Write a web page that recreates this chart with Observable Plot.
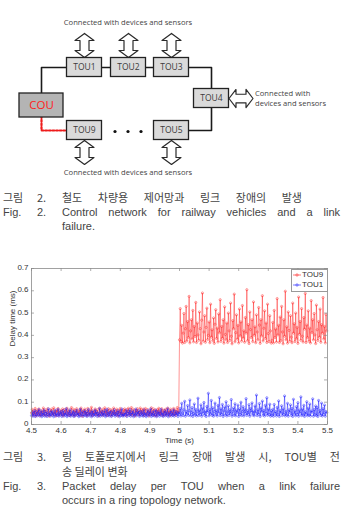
<!DOCTYPE html>
<html>
<head>
<meta charset="utf-8">
<script src="https://cdn.jsdelivr.net/npm/d3@7"></script>
<script src="https://cdn.jsdelivr.net/npm/@observablehq/plot@0.6"></script>
<style>
  body { margin: 0; background: #fff; }
  #page { position: relative; width: 343px; height: 531px; overflow: hidden; background: #fff; }
  .block { position: absolute; left: 0; }
  .cap { position: absolute; left: 0; width: 343px; height: 15px; line-height: 15px; font-size: 11px; color: #444; white-space: nowrap; }
  .ko { font-family: "Noto Sans CJK KR", sans-serif; }
  .en { font-family: "Liberation Sans", Arial, sans-serif; }
  .cap span { position: absolute; top: 0; }
  .lab { left: 3px; }
  .num { left: 37px; }
  .txt { left: 62px; }
  .just { display: inline-block; text-align: justify; text-align-last: justify; }
  #legend { position: absolute; background: #fff; border: 0.8px solid #999; font: 8px "Liberation Sans", Arial, sans-serif; color: #333; }
</style>
</head>
<body>
<div id="page">
  <div id="diagram" class="block" style="top:0"></div>

  <div class="cap ko" style="top:190px"><span class="lab">그림</span><span class="num">2.</span><span class="txt just" style="width:240px">철도 차량용 제어망과 링크 장애의 발생</span></div>
  <div class="cap en" style="top:205px"><span class="lab">Fig.</span><span class="num">2.</span><span class="txt just" style="width:278px">Control network for railway vehicles and a link</span></div>
  <div class="cap en" style="top:219px"><span class="txt">failure.</span></div>

  <div id="chart" class="block" style="top:258px"></div>
  <div id="legend" style="left:291px;top:269px;width:35px;height:21px"></div>

  <div class="cap ko" style="top:449px"><span class="lab">그림</span><span class="num">3.</span><span class="txt just" style="width:278px">링 토폴로지에서 링크 장애 발생 시, TOU별 전</span></div>
  <div class="cap ko" style="top:464px"><span class="txt">송 딜레이 변화</span></div>
  <div class="cap en" style="top:479px"><span class="lab">Fig.</span><span class="num">3.</span><span class="txt just" style="width:278px">Packet delay per TOU when a link failure</span></div>
  <div class="cap en" style="top:493px"><span class="txt">occurs in a ring topology network.</span></div>
</div>

<script>
// ---------- Network diagram: COU + TOUs on a ring ----------
const units = [
  { id: "COU",  x: 41,  y: 105, side: true },
  { id: "TOU1", x: 84,  y: 67 },
  { id: "TOU2", x: 128, y: 67 },
  { id: "TOU3", x: 171, y: 67 },
  { id: "TOU4", x: 211, y: 98, side: true },
  { id: "TOU5", x: 171, y: 130 },
  { id: "TOU9", x: 84,  y: 130 }
];
const ringOrder = ["COU", "TOU1", "TOU2", "TOU3", "TOU4", "TOU5"];
const failedLink = ["COU", "TOU9"];
// which TOUs exchange data with field devices, and on which side of the box
const deviceLinks = [
  { id: "TOU1", side: "top" }, { id: "TOU2", side: "top" }, { id: "TOU3", side: "top" },
  { id: "TOU4", side: "right" },
  { id: "TOU9", side: "bottom" }, { id: "TOU5", side: "bottom" }
];
const deviceNote = "Connected with devices and sensors";
const deviceNoteLines = ["Connected with", "devices and sensors"];

const byId = new Map(units.map(u => [u.id, u]));
const boxW = 35, boxH = 19, couW = 44, couH = 24;
const sizeOf = u => u.id === "COU" ? [couW, couH] : [boxW, boxH];

// elbow route: the vertical leg runs at the x of the side node
function route(ids) {
  const pts = [];
  ids.forEach((id, i) => {
    const b = byId.get(id);
    if (i > 0) {
      const a = byId.get(ids[i - 1]);
      if (a.x !== b.x && a.y !== b.y) {
        pts.push(a.side ? { x: a.x, y: b.y } : { x: b.x, y: a.y });
      }
    }
    pts.push({ x: b.x, y: b.y });
  });
  return pts;
}
const ringPts = route(ringOrder);
const failedPts = route(failedLink);

// hollow double-headed arrow outline, half-length 12
const arrowShape = [[0,-12],[9.5,-5],[4.5,-5],[4.5,5],[9.5,5],[0,12],[-9.5,5],[-4.5,5],[-4.5,-5],[-9.5,-5],[0,-12]];
const arrowPts = deviceLinks.flatMap((l, k) => {
  const u = byId.get(l.id);
  const [w, h] = sizeOf(u);
  let cx = u.x, cy = u.y, horiz = false;
  if (l.side === "top") cy = u.y - h / 2 - 12.5;
  if (l.side === "bottom") cy = u.y + h / 2 + 12.5;
  if (l.side === "right") { cx = u.x + w / 2 + 12; horiz = true; }
  return arrowShape.map(([dx, dy]) => ({ k, x: cx + (horiz ? dy : dx), y: cy + (horiz ? dx * 0.95 : dy) }));
});

const t9 = byId.get("TOU9"), t5 = byId.get("TOU5"), t4 = byId.get("TOU4");
const midX = (t9.x + t5.x) / 2;
const ellipsis = [-1, 0, 1].map(k => ({ x: midX + k * 13, y: t9.y + 1 }));

const topNoteY = byId.get("TOU1").y - boxH / 2 - 35;
const bottomNoteY = t9.y + boxH / 2 + 33;

const diagram = Plot.plot({
  width: 343, height: 185, margin: 0,
  x: { domain: [0, 343], range: [0, 343], axis: null },
  y: { domain: [0, 185], range: [0, 185], axis: null },
  style: { background: "white", fontFamily: "'Open Sans', sans-serif" },
  marks: [
    Plot.line(ringPts, { x: "x", y: "y", stroke: "#1a1a1a", strokeWidth: 1.6 }),
    Plot.line(failedPts, { x: "x", y: "y", stroke: "#ee1c1c", strokeWidth: 2.2, strokeDasharray: "1.8,1.8" }),
    Plot.line(arrowPts, { x: "x", y: "y", z: "k", stroke: "#2a2a2a", strokeWidth: 1.2, fill: "white" }),
    Plot.rect(units, {
      x1: d => d.x - sizeOf(d)[0] / 2, x2: d => d.x + sizeOf(d)[0] / 2,
      y1: d => d.y - sizeOf(d)[1] / 2, y2: d => d.y + sizeOf(d)[1] / 2,
      fill: d => d.id === "COU" ? "#b4b4b4" : "#dadada", stroke: "#222", strokeWidth: 1.3
    }),
    Plot.text(units, {
      x: "x", y: "y", text: "id",
      fill: d => d.id === "COU" ? "#ff2020" : "#3a3a3a",
      fontSize: d => d.id === "COU" ? 11.5 : 8.5
    }),
    Plot.dot(ellipsis, { x: "x", y: "y", r: 1.6, fill: "#111", stroke: null }),
    Plot.text([deviceNote], { x: midX, y: topNoteY, fill: "#444", fontSize: 7.6 }),
    Plot.text([deviceNote], { x: midX, y: bottomNoteY, fill: "#444", fontSize: 7.6 }),
    Plot.text(deviceNoteLines, {
      x: t4.x + boxW / 2 + 26, y: (d, i) => t4.y - 4.5 + i * 10,
      textAnchor: "start", fill: "#444", fontSize: 7.6
    })
  ]
});
document.getElementById("diagram").append(diagram);

// ---------- Packet delay per TOU (values in microseconds) ----------
const failureTime = 5.0;       // s, link COU–TOU9 fails
const startTime = 4.5;         // s
const samplePeriod = 0.0025;   // s between logged packets

const seriesNames = ["TOU9", "TOU1"];
const seriesColors = ["#ff1f1f", "#1f1fff"];

const tou9Before = [
  52,68,41,60,47,72,38,55,64,44,70,50,39,62,57,45,74,42,58,66,40,53,71,48,37,
  61,56,69,43,51,75,46,59,38,65,54,72,41,49,63,58,44,70,39,52,67,47,60,73,42,
  55,64,40,57,76,45,50,68,38,62,53,71,43,59,48,66,41,74,56,37,63,51,69,46,58,
  40,72,54,44,65,50,77,39,61,47,57,70,42,55,66,48,38,73,52,60,45,68,41,56,75,
  49,63,40,58,71,44,53,67,39,62,50,74,46,59,43,69,55,38,64,51,72,47,57,41,66,
  45,70,58,39,66,52,73,44,61,48,76,41,57,68,50,38,63,55,71,46,60,42,74,53,65,
  47,69,40,59,72,51,43,67,56,38,62,49,75,45,58,70,41,54,64,39,66,52,73,47,60,
  44,71,57,40,63,50,68,42,55,74,46,61,39,69,53,58,43,72,48,65,41,56,76,51,62
];
const tou9After = [
  380,520,372,445,365,410,498,368,430,530,375,462,390,575,366,420,470,384,512,371,440,395,548,368,455,
  402,378,505,430,362,468,590,374,415,488,369,436,522,381,400,460,367,540,392,425,376,478,364,450,515,
  386,432,370,496,412,560,373,440,387,470,365,528,404,380,455,368,500,420,377,545,396,362,466,430,585,
  371,412,492,383,445,366,518,398,460,374,534,388,420,369,480,410,605,376,448,363,505,426,390,470,372,
  550,401,438,367,492,415,380,525,446,364,470,398,578,375,432,510,386,455,368,540,408,372,488,420,365,
  378,458,366,512,390,428,370,565,402,445,368,482,376,530,415,362,470,396,598,380,438,365,505,422,374,
  488,392,367,545,410,452,372,500,385,436,364,572,405,462,378,520,396,370,480,428,588,368,446,390,510,
  374,432,366,556,412,470,380,498,402,363,536,425,377,462,392,518,369,448,410,570,384,440,366,494,420
];
const tou1Before = [
  40,55,37,48,62,36,44,58,39,51,67,38,46,60,35,53,42,65,37,49,57,36,45,70,40,
  52,38,61,43,56,35,47,64,39,50,41,68,37,54,44,59,36,48,63,38,52,42,71,35,46,
  57,40,66,37,50,43,60,36,55,39,48,64,41,53,35,45,69,38,51,58,37,44,62,40,56,
  36,49,67,39,47,54,35,61,42,52,38,65,45,57,36,50,41,72,37,48,59,39,53,43,63,
  35,46,68,40,55,38,51,60,36,44,57,42,66,37,49,54,39,62,45,35,58,41,70,38,47,
  38,52,44,64,36,49,58,41,67,37,53,46,61,35,50,43,69,39,56,47,62,36,45,59,40,
  54,37,66,42,51,35,48,63,39,57,44,70,36,52,41,60,38,46,65,35,55,43,58,37,49,
  68,40,53,36,47,62,39,56,42,71,35,50,45,61,38,54,41,66,37,48,59,43,52,36,57
];
const tou1After = [
  45,72,38,95,52,40,66,104,37,58,47,85,41,62,110,39,54,76,36,49,92,43,68,38,57,
  118,40,64,46,88,37,73,51,99,42,60,36,81,55,140,39,67,48,108,41,75,37,58,96,44,
  63,38,86,52,121,40,70,46,90,36,61,78,43,102,38,56,84,41,66,49,112,37,59,74,42,
  93,39,64,53,87,36,70,45,100,40,58,80,38,68,50,116,41,62,47,89,37,72,55,97,43,
  60,39,83,52,132,40,66,46,94,36,74,57,105,42,63,38,86,50,120,41,69,45,91,37,62,
  41,68,37,90,49,58,38,77,44,106,36,62,52,84,40,70,46,128,38,59,43,95,37,66,54,
  88,41,72,36,113,48,61,39,80,45,98,37,64,51,124,40,69,43,86,36,57,47,102,39,73,
  42,92,38,60,55,115,37,67,44,83,40,76,36,108,49,63,41,96,38,71,46,87,37,58,53
];

const xTicks = [4.5, 4.6, 4.7, 4.8, 4.9, 5, 5.1, 5.2, 5.3, 5.4, 5.5];
const yTicks = [0, 0.1, 0.2, 0.3, 0.4, 0.5, 0.6, 0.7];

const toRows = (series, before, after) => [
  ...before.map((v, i) => ({ series, t: startTime + i * samplePeriod, delay: v / 1000 })),
  ...after.map((v, i) => ({ series, t: failureTime + i * samplePeriod, delay: v / 1000 }))
];
const rows9 = toRows("TOU9", tou9Before, tou9After);
const rows1 = toRows("TOU1", tou1Before, tou1After);

const W = 343, H = 190, mT = 10, mB = 24, mL = 31, mR = 16;
const innerW = W - mL - mR, innerH = H - mT - mB, tickLen = 3;
const axisColor = "#8a8a8a";

const chart = Plot.plot({
  width: W, height: H,
  marginTop: mT, marginBottom: mB, marginLeft: mL, marginRight: mR,
  style: { background: "white", fontFamily: "'Liberation Sans', Arial, sans-serif", fontSize: "8px", color: "#333" },
  x: { domain: [4.5, 5.5] },
  y: { domain: [0, 0.7] },
  color: { domain: seriesNames, range: seriesColors },
  marks: [
    Plot.line(rows9, { x: "t", y: "delay", stroke: "series", strokeWidth: 0.6, strokeOpacity: 0.8 }),
    Plot.dot(rows9, { x: "t", y: "delay", stroke: "series", r: 1.1, strokeWidth: 0.5, strokeOpacity: 0.85 }),
    Plot.line(rows1, { x: "t", y: "delay", stroke: "series", strokeWidth: 0.6, strokeOpacity: 0.85 }),
    Plot.dot(rows1, { x: "t", y: "delay", stroke: "series", r: 1.1, strokeWidth: 0.5, strokeOpacity: 0.9 }),
    Plot.frame({ stroke: axisColor, strokeWidth: 0.8 }),
    Plot.tickX(xTicks, { x: d => d, insetTop: innerH - tickLen, stroke: axisColor, strokeWidth: 0.7 }),
    Plot.tickX(xTicks, { x: d => d, insetBottom: innerH - tickLen, stroke: axisColor, strokeWidth: 0.7 }),
    Plot.tickY(yTicks, { y: d => d, insetRight: innerW - tickLen, stroke: axisColor, strokeWidth: 0.7 }),
    Plot.tickY(yTicks, { y: d => d, insetLeft: innerW - tickLen, stroke: axisColor, strokeWidth: 0.7 }),
    Plot.axisX({ ticks: xTicks, tickSize: 0, tickPadding: 3, label: null, tickFormat: d => String(d) }),
    Plot.axisY({ ticks: yTicks, tickSize: 0, tickPadding: 3, dy: -1, label: null, tickFormat: d => String(d) }),
    Plot.text(["Time (s)"], { frameAnchor: "bottom", dy: 18.5, fontSize: 8, fill: "#333" }),
    Plot.text(["Delay time (ms)"], { frameAnchor: "left", dx: -19, rotate: -90, fontSize: 8, fill: "#333" })
  ]
});
document.getElementById("chart").append(chart);

// legend: line with marker + series name
const legend = d3.select("#legend");
seriesNames.forEach((name, i) => {
  const row = legend.append("div").style("height", "10px").style("line-height", "10px").style("white-space", "nowrap");
  const svg = row.append("svg").attr("width", 10).attr("height", 10).style("vertical-align", "top");
  svg.append("line").attr("x1", 1).attr("x2", 9).attr("y1", 5).attr("y2", 5).attr("stroke", seriesColors[i]).attr("stroke-width", 0.6);
  svg.append("circle").attr("cx", 5).attr("cy", 5).attr("r", 1.2).attr("fill", "none").attr("stroke", seriesColors[i]).attr("stroke-width", 0.5);
  row.append("span").text(name);
});
</script>
</body>
</html>
